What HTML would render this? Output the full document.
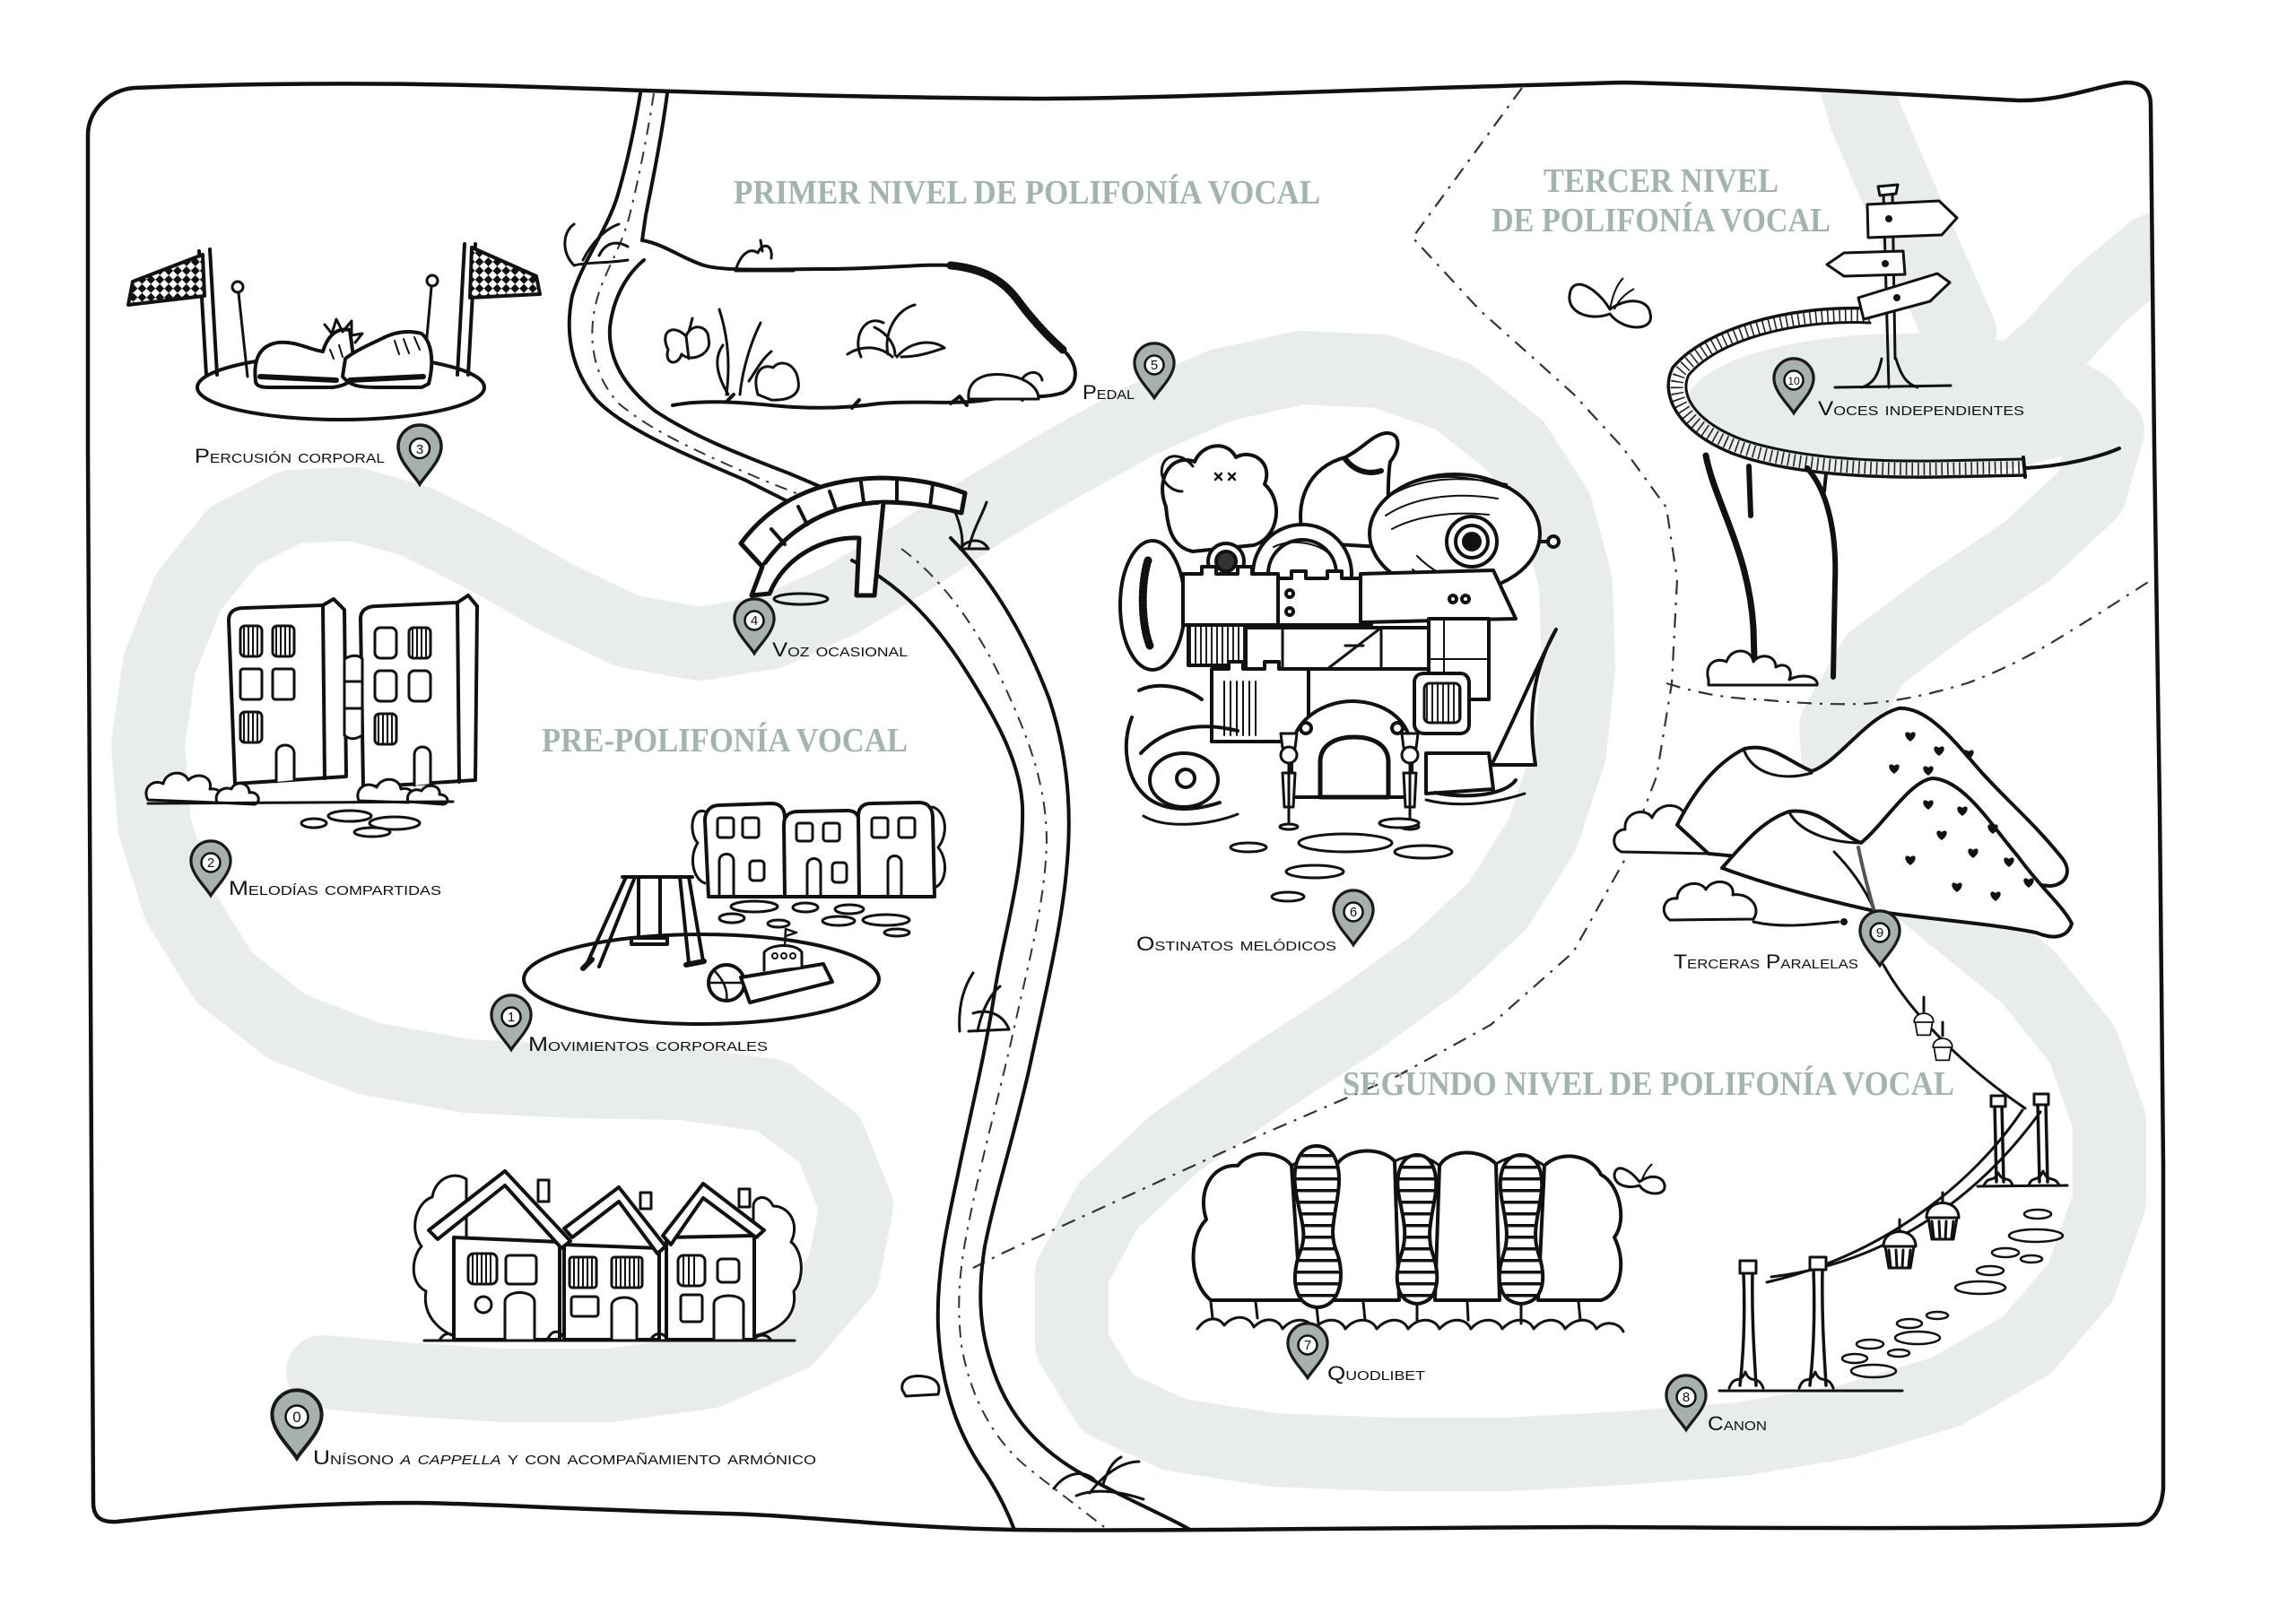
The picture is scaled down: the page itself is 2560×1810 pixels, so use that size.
<!DOCTYPE html>
<html><head><meta charset="utf-8"><style>html,body{margin:0;padding:0;background:#fff}svg{display:block}</style></head>
<body>
<svg width="2560" height="1810" viewBox="0 0 2560 1810" xmlns="http://www.w3.org/2000/svg">
<defs>
<pattern id="chk" width="14" height="14" patternUnits="userSpaceOnUse" patternTransform="rotate(45)"><rect width="14" height="14" fill="#fff"/><rect width="7" height="7" fill="#111"/><rect x="7" y="7" width="7" height="7" fill="#111"/></pattern>
<pattern id="stripes" width="12" height="13" patternUnits="userSpaceOnUse"><rect width="12" height="13" fill="#fff"/><rect width="12" height="3.5" fill="#111"/></pattern>
<pattern id="vh" width="6" height="10" patternUnits="userSpaceOnUse"><rect width="6" height="10" fill="#fff"/><rect width="2" height="10" fill="#222"/></pattern>
<path id="pin" d="M0,42 C-6,32 -24,16 -24,0 A24,24 0 1 1 24,0 C24,16 6,32 0,42 Z"/>
<path id="heart" d="M0,5 C-9,-1 -6,-9 0,-4 C6,-9 9,-1 0,5 Z"/>
<path id="cup" d="M-18,0 C-18,-22 18,-22 18,0 Z M-16,0 L16,0 L12,24 L-12,24 Z"/>
<clipPath id="clipB"><path d="M150,98 C300,92 450,92 600,97 C760,102 900,108 1155,110 C1300,110 1500,100 1810,92 C1950,95 2100,104 2250,112 C2300,113 2340,95 2370,92 C2392,92 2398,102 2398,118 L2402,500 L2408,900 L2412,1300 L2412,1660 C2410,1685 2400,1697 2385,1700 C2200,1706 2000,1704 1789,1703 C1600,1703 1300,1708 1131,1706 C1000,1704 900,1690 808,1688 C650,1684 520,1676 462,1676 C300,1676 200,1690 130,1697 C110,1698 104,1690 104,1675 L102,1300 L100,900 L98,500 L98,150 C98,125 120,100 150,98 Z"/></clipPath>
</defs>

<!-- gray winding path -->
<g clip-path="url(#clipB)">
<g fill="none" stroke="#e8ecec" stroke-width="82" stroke-linecap="round" stroke-linejoin="round">
<path d="M360,1530 L450,1538 L560,1545 L680,1545 L790,1530 L880,1490 L940,1420 L955,1345 L925,1270 L860,1222 L760,1208 L640,1206 L520,1200 L410,1180 L320,1145 L250,1090 L200,1010 L172,920 L165,830 L178,740 L210,660 L260,598 L325,565 L395,562 L465,582 L540,620 L620,666 L700,704 L780,718 L860,705 L940,668 L1020,620 L1100,567 L1180,520 L1270,470 L1360,430 L1450,410 L1540,414 L1620,442 L1690,497 L1735,567 L1757,650 L1760,745 L1750,840 L1720,930 L1670,1010 L1600,1075 L1510,1140 L1410,1205 L1310,1275 L1235,1345 L1195,1420 L1195,1500 L1235,1565 L1310,1600 L1420,1617 L1550,1622 L1680,1622 L1810,1615 L1940,1605 L2060,1585 L2170,1552 L2260,1500 L2320,1430 L2352,1340 L2352,1250 L2322,1165 L2262,1090 L2182,1025 L2102,960 L2052,890 L2047,810 L2090,735 L2170,675 L2260,615 L2330,550 L2350,480"/>
<path d="M2060,60 L2080,130 L2110,200 L2145,280 L2185,370"/>
<path d="M2470,250 L2400,280 L2340,330 L2290,385 L2240,430"/>
</g>
<ellipse cx="2125" cy="452" rx="245" ry="80" fill="#e8ecec"/>
</g>

<!-- border -->
<path d="M150,98 C300,92 450,92 600,97 C760,102 900,108 1155,110 C1300,110 1500,100 1810,92 C1950,95 2100,104 2250,112 C2300,113 2340,95 2370,92 C2392,92 2398,102 2398,118 L2402,500 L2408,900 L2412,1300 L2412,1660 C2410,1685 2400,1697 2385,1700 C2200,1706 2000,1704 1789,1703 C1600,1703 1300,1708 1131,1706 C1000,1704 900,1690 808,1688 C650,1684 520,1676 462,1676 C300,1676 200,1690 130,1697 C110,1698 104,1690 104,1675 L102,1300 L100,900 L98,500 L98,150 C98,125 120,100 150,98 Z" fill="none" stroke="#111" stroke-width="4.5"/>

<!-- region dividers -->
<g fill="none" stroke="#333" stroke-width="2.2" stroke-dasharray="16 9 3 9">
<path d="M1697,98 L1575,265 L1650,346 L1754,439 L1810,500 L1858,566 L1870,646 L1864,762 L1847,866 L1812,958 L1754,1062 L1662,1143 L1558,1200 L1396,1270 L1246,1339 L1119,1397 L1085,1414"/>
<path d="M1858,762 C1900,775 1930,779 1962,780 C2000,784 2040,786 2077,785 C2120,782 2160,772 2193,762 C2240,745 2280,722 2308,704 C2340,685 2370,665 2400,646"/>
</g>

<!-- river -->
<g fill="none" stroke="#111" stroke-width="4" stroke-linecap="round">
<path d="M714,104 C708,140 700,180 688,220 C676,258 650,290 638,330 C630,370 636,410 664,445 C695,478 760,505 830,535 L880,560"/>
<path d="M744,104 C738,150 728,200 720,240 L716,268"/>
<path d="M718,290 C700,305 684,330 680,365 C678,400 695,430 730,458 C770,485 820,505 880,528 L920,545"/>
<path d="M950,625 C1000,650 1040,690 1075,745 C1110,800 1138,850 1140,900 C1142,970 1120,1040 1110,1100 C1098,1180 1080,1250 1068,1310 C1055,1370 1044,1420 1046,1480 C1050,1560 1075,1610 1100,1645 C1115,1668 1125,1690 1131,1706"/>
<path d="M1060,600 C1100,640 1140,700 1170,780 C1190,840 1195,900 1190,960 C1185,1030 1165,1110 1148,1190 C1130,1270 1110,1330 1098,1390 C1090,1440 1092,1480 1105,1520 C1120,1570 1150,1610 1200,1640 C1250,1670 1300,1690 1327,1706"/>
</g>
<g fill="none" stroke="#333" stroke-width="2" stroke-dasharray="14 8 3 8">
<path d="M729,104 C722,150 712,200 702,240 C692,280 672,305 664,340 C655,380 662,420 690,450 C725,480 780,505 850,535 L900,555"/>
<path d="M1005,612 C1050,645 1090,700 1120,765 C1150,830 1167,880 1167,940 C1165,1010 1145,1080 1130,1150 C1112,1230 1095,1290 1083,1350 C1070,1410 1066,1450 1072,1500 C1082,1560 1110,1610 1150,1640 C1185,1668 1215,1690 1235,1706"/>
</g>

<!-- pond -->
<g fill="none" stroke="#111" stroke-width="4" stroke-linecap="round" stroke-linejoin="round">
<path d="M716,268 C740,272 760,288 785,296 C810,303 860,300 920,300 C980,300 1030,294 1060,296"/>
<path d="M1060,296 C1100,300 1120,315 1135,335 C1150,355 1165,372 1185,390" stroke-width="9" stroke-dasharray="3 2"/>
<path d="M1185,390 C1202,405 1205,428 1185,438 C1160,446 1130,440 1100,446 C1060,452 1020,446 980,450 C940,456 900,456 860,452 C820,448 780,446 750,452"/>
<path d="M1120,444 L1130,436 L1140,446 M1060,450 L1070,442 L1078,452 M950,455 L958,446 M810,448 L818,440"/>
<path d="M820,302 C825,285 835,275 845,282 C850,270 862,272 860,288 M820,302 L885,302 M850,280 L848,268" stroke-width="3"/>
<path d="M745,390 C735,370 750,360 765,375 C770,360 790,362 790,378 C795,395 770,405 760,395 C755,410 740,405 745,390 Z M765,375 L768,400 M768,370 L772,355" stroke-width="3"/>
<path d="M810,440 C815,400 810,370 802,345 M825,440 C828,410 838,380 848,360 M812,440 C800,420 795,400 806,385 M835,425 C845,410 850,400 860,392" stroke-width="3"/>
<path d="M845,440 C838,415 850,405 862,410 C870,400 888,405 890,425 C893,440 880,447 860,446 Z" fill="#fff" stroke-width="3"/>
<path d="M960,398 C950,375 965,350 985,360 M990,395 C985,370 1000,345 1020,340 M1000,398 C1015,380 1040,378 1053,388 C1040,392 1025,398 1005,398 M945,395 C960,385 980,385 995,398 M975,365 C990,372 998,385 998,396" stroke-width="3"/>
<path d="M1080,445 C1078,425 1095,415 1120,418 C1140,420 1158,430 1158,445 Z M1140,422 C1148,412 1160,414 1162,424" fill="#fff" stroke-width="3"/>
<path d="M640,296 C625,280 628,258 640,250 M650,290 C660,270 675,255 690,250 M640,296 C655,292 675,294 700,290 M668,285 C675,270 688,268 700,275" stroke-width="3"/>
<path d="M1060,560 C1070,580 1075,600 1072,612 M1080,612 C1085,590 1095,575 1100,560 M1070,612 C1080,600 1095,600 1102,612 Z" stroke-width="3"/>
<path d="M1070,1150 C1068,1120 1075,1100 1085,1085 M1090,1150 C1095,1125 1105,1108 1115,1100 M1085,1130 C1100,1125 1118,1130 1125,1148 L1080,1150" stroke-width="3"/>
<path d="M1175,1660 C1190,1640 1210,1640 1220,1650 M1215,1665 C1230,1645 1250,1630 1270,1630 M1200,1668 C1220,1660 1245,1662 1275,1672 M1230,1655 C1235,1640 1240,1630 1250,1625" stroke-width="3"/>
<path d="M1006,1550 C1004,1538 1015,1533 1030,1535 C1045,1537 1049,1545 1046,1555 L1010,1557 Z" fill="#fff" stroke-width="3"/>
</g>

<!-- bridge -->
<g stroke="#111" stroke-width="5" fill="#fff" stroke-linejoin="round" stroke-linecap="round">
<path d="M826,606 C860,560 910,535 980,533 C1020,533 1050,540 1076,550 L1072,572 C1045,565 1015,560 985,560 C925,562 880,588 850,632 Z"/>
<path d="M850,632 L838,664 L858,662 C875,620 920,598 958,600 L955,664 L975,664 L985,560" fill="#fff"/>
<path d="M860,590 L875,607 M890,565 L900,585 M925,548 L932,568 M960,538 L963,560 M1000,535 L1000,560 M1040,540 L1037,565" fill="none" stroke-width="4"/>
<ellipse cx="893" cy="668" rx="30" ry="6" fill="none" stroke-width="3"/>
</g>

<!-- shoes & flags -->
<g stroke="#111" stroke-width="4" fill="none" stroke-linejoin="round" stroke-linecap="round">
<ellipse cx="380" cy="432" rx="160" ry="36" fill="#fff"/>
<path d="M222,280 L230,418 M234,278 L242,418"/>
<path d="M518,272 L510,418 M530,272 L522,418"/>
<path d="M226,284 L148,314 L143,340 L228,330 Z" fill="url(#chk)"/>
<path d="M526,276 L598,308 L602,328 L524,332 Z" fill="url(#chk)"/>
<circle cx="265" cy="320" r="6" fill="#fff" stroke-width="3"/>
<path d="M266,327 L276,420" stroke-width="3"/>
<circle cx="482" cy="313" r="6" fill="#fff" stroke-width="3"/>
<path d="M481,320 L472,420" stroke-width="3"/>
<path d="M285,425 C282,400 290,385 310,382 C330,380 345,390 360,392 C365,375 375,365 390,368 L395,405 C400,420 390,430 370,432 L300,432 C290,432 285,430 285,425 Z" fill="#fff"/>
<path d="M478,428 C485,400 480,380 470,372 C455,368 440,370 425,378 C410,385 395,392 385,400 L382,420 C390,430 400,432 420,432 L470,432 Z" fill="#fff"/>
<path d="M290,420 L375,424 M390,424 L472,420" stroke-width="6"/>
<path d="M362,362 L370,372 L375,356 L382,370 L392,358 L392,374 L404,372 L396,382" stroke-width="3"/>
<path d="M368,390 L372,400 M378,385 L382,398 M440,380 L445,395 M450,378 L456,394 M462,376 L468,390" stroke-width="2"/>
</g>

<!-- apartments -->
<g stroke="#111" stroke-width="4" fill="#fff" stroke-linejoin="round" stroke-linecap="round">
<path d="M255,692 C255,682 262,678 272,678 L360,675 L372,668 L384,680 L386,866 L262,874 Z"/>
<path d="M360,675 L362,868" fill="none"/>
<path d="M402,690 C402,680 410,676 420,676 L510,672 L522,664 L532,676 L530,870 L405,878 Z"/>
<path d="M510,672 L512,872" fill="none"/>
<path d="M384,735 C392,730 400,730 404,735 L404,820 C396,825 390,825 384,820 Z M384,760 L404,760 M384,790 L404,790" stroke-width="3"/>
<g stroke-width="3">
<rect x="268" y="698" width="24" height="34" rx="5"/><rect x="304" y="698" width="24" height="34" rx="5"/>
<rect x="268" y="746" width="24" height="34" rx="3"/><rect x="304" y="746" width="24" height="34" rx="3"/>
<rect x="268" y="794" width="24" height="34" rx="5"/>
<path d="M308,872 L308,840 C308,828 328,828 328,840 L328,870" />
<rect x="418" y="700" width="24" height="34" rx="6"/><rect x="456" y="700" width="24" height="34" rx="5"/>
<rect x="418" y="748" width="24" height="34" rx="6"/><rect x="456" y="748" width="24" height="34" rx="6"/>
<rect x="418" y="796" width="24" height="34" rx="5"/>
<path d="M462,876 L462,842 C462,830 480,830 480,842 L480,874"/>
<path d="M272,700 L272,730 M277,700 L277,730 M282,700 L282,730 M287,700 L287,730 M308,700 L308,730 M313,700 L313,730 M318,700 L318,730 M323,700 L323,730 M272,796 L272,826 M277,796 L277,826 M282,796 L282,826 M287,796 L287,826 M460,702 L460,732 M465,702 L465,732 M470,702 L470,732 M475,702 L475,732 M422,798 L422,828 M427,798 L427,828 M432,798 L432,828 M437,798 L437,828" stroke-width="2" fill="none"/>
</g>
<path d="M165,892 C158,880 170,868 182,874 C185,860 205,858 210,870 C220,860 238,866 234,880 C248,878 252,892 240,895 Z" stroke-width="3"/>
<path d="M242,895 C238,885 248,876 258,880 C262,870 278,872 278,884 C288,882 292,894 284,897 Z" stroke-width="3"/>
<path d="M400,893 C395,880 408,870 420,878 C425,866 445,866 447,880 C460,876 468,892 455,895 Z" stroke-width="3"/>
<path d="M455,894 C452,884 462,878 470,882 C476,872 492,876 490,886 C500,886 502,896 494,897 Z" stroke-width="3"/>
<path d="M165,896 L505,894" fill="none" stroke-width="3"/>
<ellipse cx="390" cy="910" rx="24" ry="6" stroke-width="3"/><ellipse cx="440" cy="918" rx="28" ry="7" stroke-width="3"/><ellipse cx="350" cy="918" rx="14" ry="5" stroke-width="3"/><ellipse cx="415" cy="928" rx="20" ry="5" stroke-width="3"/>
</g>

<!-- playground -->
<g stroke="#111" stroke-width="4" fill="#fff" stroke-linejoin="round" stroke-linecap="round">
<path d="M790,1000 L786,915 C786,905 792,898 802,898 L860,896 C870,896 875,902 875,912 L876,1000 Z"/>
<path d="M875,1000 L874,920 C874,910 880,905 890,905 L945,904 C955,904 958,910 958,920 L958,1000 Z"/>
<path d="M958,1000 L957,910 C957,900 963,896 972,896 L1025,895 C1035,895 1040,902 1040,912 L1042,1000 Z"/>
<path d="M786,905 C770,900 768,930 778,940 C768,955 772,980 786,985 M1040,900 C1055,905 1058,930 1046,945 C1058,960 1055,985 1042,990" fill="none" stroke-width="3"/>
<g stroke-width="3">
<rect x="800" y="912" width="18" height="22" rx="3"/><rect x="828" y="912" width="18" height="22" rx="3"/><rect x="888" y="918" width="18" height="20" rx="3"/><rect x="918" y="918" width="18" height="20" rx="3"/><rect x="972" y="912" width="18" height="22" rx="3"/><rect x="1002" y="912" width="18" height="22" rx="3"/>
<path d="M802,1000 L802,960 C802,950 818,950 818,960 L818,1000 M900,1000 L900,965 C900,955 915,955 915,965 L915,1000 M990,1000 L990,962 C990,952 1005,952 1005,962 L1005,1000" fill="none"/>
<rect x="836" y="960" width="16" height="22" rx="4"/><rect x="928" y="962" width="16" height="22" rx="4"/>
</g>
<ellipse cx="782" cy="1092" rx="198" ry="50"/>
<path d="M694,978 L772,978 M698,978 L653,1078 M708,978 L668,1078 M768,978 L784,1072 M758,978 L768,1074 M712,980 L712,1046 M736,980 L736,1046 M704,1046 L744,1046 L744,1053 L704,1053 Z" fill="none"/>
<path d="M650,1080 L660,1070 M765,1076 L785,1072" fill="none" stroke-width="6"/>
<circle cx="810" cy="1096" r="20"/>
<path d="M796,1082 C806,1092 812,1104 810,1116 M790,1096 L830,1096" fill="none" stroke-width="2.5"/>
<path d="M826,1090 L918,1075 L928,1095 L836,1118 Z"/>
<path d="M852,1082 L852,1062 C860,1052 888,1052 894,1062 L894,1078" stroke-width="3"/>
<path d="M875,1055 L876,1036 L888,1040 L876,1044" fill="none" stroke-width="2.5"/>
<circle cx="864" cy="1066" r="3" stroke-width="2"/><circle cx="874" cy="1066" r="3" stroke-width="2"/><circle cx="884" cy="1066" r="3" stroke-width="2"/>
<g stroke-width="3"><ellipse cx="841" cy="1011" rx="26" ry="6"/><ellipse cx="898" cy="1012" rx="14" ry="5"/><ellipse cx="947" cy="1014" rx="16" ry="5"/><ellipse cx="988" cy="1026" rx="26" ry="6"/><ellipse cx="935" cy="1027" rx="18" ry="5"/><ellipse cx="816" cy="1024" rx="14" ry="5"/><ellipse cx="868" cy="1030" rx="12" ry="4"/><ellipse cx="1000" cy="1040" rx="14" ry="4"/></g>
</g>

<!-- three houses -->
<g stroke="#111" stroke-width="4" fill="#fff" stroke-linejoin="round" stroke-linecap="round">
<path d="M520,1494 C495,1490 470,1470 475,1440 C455,1430 460,1400 470,1390 C455,1370 465,1340 482,1335 C485,1315 505,1305 520,1315 Z" stroke-width="3"/>
<path d="M840,1490 C865,1485 890,1470 885,1440 C898,1425 895,1395 882,1385 C892,1365 880,1345 862,1345 C855,1330 840,1335 840,1345 Z" stroke-width="3"/>
<path d="M506,1494 L506,1380 L624,1385 L624,1494 Z"/>
<path d="M629,1494 L629,1388 L735,1392 L735,1494 Z"/>
<path d="M743,1494 L743,1380 L841,1378 L841,1494 Z"/>
<path d="M478,1372 L563,1306 L636,1384 L626,1392 L563,1322 L488,1382 Z"/>
<path d="M629,1370 L690,1324 L742,1390 L733,1398 L690,1340 L638,1380 Z"/>
<path d="M739,1378 L784,1320 L852,1372 L843,1380 L784,1336 L748,1388 Z"/>
<rect x="600" y="1316" width="12" height="24" stroke-width="3"/><rect x="714" y="1330" width="12" height="18" stroke-width="3"/><rect x="824" y="1326" width="12" height="20" stroke-width="3"/>
<g stroke-width="3">
<rect x="522" y="1398" width="32" height="34" rx="6"/><rect x="564" y="1400" width="34" height="32" rx="4"/>
<rect x="635" y="1402" width="30" height="34" rx="3"/><rect x="682" y="1402" width="34" height="34" rx="3"/>
<rect x="756" y="1400" width="30" height="34" rx="6"/><rect x="800" y="1404" width="24" height="26" rx="5"/>
<rect x="637" y="1446" width="30" height="22" rx="3"/><rect x="759" y="1444" width="24" height="30" rx="3"/>
<circle cx="539" cy="1455" r="9"/>
<path d="M563,1494 L563,1452 C563,1438 596,1438 596,1452 L596,1494 M682,1494 L682,1456 C682,1444 710,1444 710,1456 L710,1494 M796,1494 L796,1454 C796,1442 829,1442 829,1454 L829,1494"/>
<path d="M527,1400 L527,1430 M532,1400 L532,1430 M537,1400 L537,1430 M542,1400 L542,1430 M547,1400 L547,1430 M640,1404 L640,1434 M645,1404 L645,1434 M650,1404 L650,1434 M655,1404 L655,1434 M660,1404 L660,1434 M687,1404 L687,1434 M692,1404 L692,1434 M697,1404 L697,1434 M702,1404 L702,1434 M707,1404 L707,1434 M712,1404 L712,1434 M762,1402 L762,1432 M768,1402 L768,1432 M774,1402 L774,1432" stroke-width="2" fill="none"/>
</g>
<path d="M473,1495 L886,1495 M490,1495 C495,1485 505,1485 508,1495 M610,1495 C615,1482 625,1482 630,1495 M725,1495 C730,1485 740,1485 745,1495 M840,1495 C845,1487 855,1487 860,1495" fill="none" stroke-width="3"/>
</g>

<!-- robot castle -->
<g stroke="#111" stroke-width="4" fill="#fff" stroke-linejoin="round" stroke-linecap="round">
<path d="M1455,605 C1440,560 1460,520 1500,510 C1520,500 1530,485 1545,483 C1562,482 1562,500 1550,515 C1545,545 1552,580 1540,610 Z"/>
<path d="M1500,512 C1510,525 1525,530 1540,525" fill="none" stroke-width="6"/>
<ellipse cx="1622" cy="595" rx="95" ry="66"/>
<path d="M1540,560 C1570,535 1620,528 1680,540 M1545,575 C1575,555 1620,548 1670,556 M1552,590 C1580,575 1620,570 1660,574 M1560,545 C1590,530 1630,524 1690,548" fill="none" stroke-width="2"/>
<path d="M1580,620 C1600,640 1620,650 1660,650 M1575,635 C1595,652 1620,660 1650,660" fill="none" stroke-width="2"/>
<circle cx="1641" cy="604" r="28"/><circle cx="1641" cy="604" r="18"/><circle cx="1641" cy="604" r="9" fill="#111"/>
<path d="M1716,604 L1726,604" fill="none"/><circle cx="1732" cy="604" r="6"/>
<path d="M1300,565 C1288,535 1305,505 1332,515 C1340,495 1368,490 1378,510 C1395,500 1420,515 1410,540 C1432,560 1425,600 1398,608 L1330,615 C1305,610 1302,585 1300,565 Z"/>
<path d="M1330,520 C1318,505 1300,505 1296,520 C1292,535 1305,548 1318,548" fill="none" stroke-width="3"/>
<path d="M1355,528 L1362,535 M1362,528 L1355,535 M1370,528 L1377,535 M1377,528 L1370,535" fill="none" stroke-width="2.5"/>
<circle cx="1367" cy="626" r="20"/><circle cx="1367" cy="626" r="11" fill="#333"/>
<circle cx="1452" cy="640" r="55"/><circle cx="1452" cy="640" r="38"/>
<path d="M1420,610 C1440,600 1470,605 1485,620" fill="none" stroke-width="2"/>
<ellipse cx="1285" cy="675" rx="36" ry="72"/>
<path d="M1280,625 C1272,650 1272,695 1282,720" fill="none" stroke-width="9" stroke-dasharray="2 3"/>
<path d="M1319,640 L1340,640 L1340,632 L1356,632 L1356,640 L1380,640 L1380,632 L1396,632 L1396,640 L1425,640 L1425,697 L1319,697 Z"/>
<path d="M1425,645 L1440,645 L1440,637 L1456,637 L1456,645 L1480,645 L1480,637 L1496,637 L1496,645 L1529,645 L1529,697 L1425,697 Z"/>
<circle cx="1438" cy="662" r="4"/><circle cx="1438" cy="682" r="4"/>
<path d="M1517,640 L1665,636 L1690,690 L1517,694 Z"/>
<circle cx="1620" cy="668" r="4"/><circle cx="1634" cy="668" r="4"/>
<path d="M1325,697 L1421,697 L1421,742 L1325,742 Z" fill="url(#vh)"/>
<path d="M1389,700 L1593,700 L1593,746 L1389,746 Z"/>
<path d="M1480,746 L1540,700 M1540,700 L1540,746 M1430,700 L1430,746 M1500,720 L1520,720" fill="none" stroke-width="3"/>
<path d="M1593,690 L1660,690 L1660,780 L1593,780 Z"/>
<path d="M1610,690 L1610,780 M1593,735 L1660,735" fill="none" stroke-width="2"/>
<path d="M1351,746 L1370,746 L1370,738 L1386,738 L1386,746 L1410,746 L1410,738 L1426,738 L1426,746 L1459,746 L1459,827 L1351,827 Z"/>
<path d="M1365,760 L1365,820 M1372,760 L1372,820 M1379,760 L1379,820 M1386,760 L1386,820 M1393,760 L1393,820 M1400,760 L1400,820" fill="none" stroke-width="2"/>
<path d="M1663,853 C1690,800 1705,760 1735,702 C1712,742 1702,790 1712,853 Z"/>
<path d="M1262,800 C1250,830 1255,870 1280,890 C1300,905 1330,905 1360,895 M1272,840 C1300,810 1340,805 1380,815 M1270,770 C1290,760 1320,765 1340,780" fill="none"/>
<ellipse cx="1320" cy="870" rx="38" ry="30"/><circle cx="1322" cy="868" r="10"/>
<path d="M1440,889 L1440,840 C1440,800 1480,782 1507,782 C1540,782 1574,800 1574,840 L1574,889 Z"/>
<path d="M1472,889 L1472,850 C1472,830 1490,822 1510,822 C1530,822 1548,830 1548,850 L1548,889 Z" fill="#fff" stroke-width="5"/>
<circle cx="1456" cy="812" r="6"/><circle cx="1558" cy="812" r="6"/>
<path d="M1577,761 C1577,754 1582,751 1588,751 L1628,751 C1634,751 1638,755 1638,762 L1638,808 C1638,814 1634,818 1628,818 L1588,818 C1582,818 1577,814 1577,808 Z"/>
<rect x="1588" y="762" width="40" height="44" rx="6" fill="url(#vh)" stroke-width="3"/>
<path d="M1590,840 L1660,840 L1665,880 L1590,885 Z M1600,884 C1640,892 1680,885 1690,870" />
<path d="M1428,818 L1446,818 L1444,834 L1430,834 Z M1563,818 L1581,818 L1579,834 L1565,834 Z" stroke-width="3"/>
<circle cx="1437" cy="842" r="9" stroke-width="3"/><circle cx="1572" cy="842" r="9" stroke-width="3"/>
<path d="M1437,851 L1437,920 M1572,851 L1572,920 M1430,862 L1444,862 L1442,900 L1432,900 Z M1565,862 L1579,862 L1577,900 L1567,900 Z" stroke-width="3"/>
<ellipse cx="1437" cy="922" rx="10" ry="3" stroke-width="3"/><ellipse cx="1572" cy="922" rx="10" ry="3" stroke-width="3"/>
<path d="M1275,910 C1300,925 1350,920 1380,908 M1590,892 C1620,900 1660,898 1700,885" fill="none" stroke-width="3"/>
<g stroke-width="3"><ellipse cx="1500" cy="940" rx="52" ry="10"/><ellipse cx="1466" cy="972" rx="32" ry="7"/><ellipse cx="1436" cy="1000" rx="18" ry="5"/><ellipse cx="1587" cy="950" rx="32" ry="7"/><ellipse cx="1392" cy="945" rx="20" ry="5"/><ellipse cx="1560" cy="918" rx="22" ry="5"/></g>
</g>

<!-- platform (voces independientes) -->
<g stroke="#111" stroke-width="4" fill="none" stroke-linejoin="round" stroke-linecap="round">
<path d="M2085,352 C1995,348 1908,374 1874,414 C1860,442 1880,476 1935,497 C1995,519 2080,524 2160,523 L2257,521" stroke="#222" stroke-width="14" stroke-linecap="butt" stroke-dasharray="1.6 5"/>
<path d="M2085,344 C1990,340 1900,368 1865,410 C1850,440 1870,480 1930,505 C1990,528 2080,533 2160,532 L2258,530" stroke-width="3.5"/>
<path d="M2085,360 C1998,356 1915,380 1883,418 C1872,440 1890,470 1942,490 C2000,510 2082,515 2160,514 L2256,512" stroke-width="3"/>
<path d="M2256,510 L2258,532 M2258,522 C2300,520 2340,510 2363,500"/>
<path d="M1902,508 C1912,560 1950,615 1955,700 L1956,735" stroke-width="7"/>
<path d="M1950,520 L1952,575" stroke-width="6"/>
<path d="M2015,522 C2040,550 2048,600 2046,650 L2044,755" stroke-width="6"/>
<path d="M2036,528 L2034,548" stroke-width="4"/>
<path d="M1905,758 C1900,742 1912,732 1925,738 C1930,722 1952,722 1955,738 C1962,728 1980,730 1980,744 C1990,738 2000,745 1995,758 C2010,750 2028,755 2026,764 L1905,764 Z" fill="#fff" stroke-width="3"/>
<path d="M2100,214 L2106,432 M2110,214 L2113,400" stroke-width="3"/>
<path d="M2094,208 L2116,206 L2114,216 L2096,218 Z" fill="#fff" stroke-width="3"/>
<path d="M2098,400 C2094,420 2088,428 2076,432 M2114,400 C2120,420 2126,428 2138,432 M2046,432 L2175,430" stroke-width="3"/>
<path d="M2082,228 L2162,224 L2182,243 L2165,262 L2083,265 Z" fill="#fff" stroke-width="3"/>
<path d="M2122,280 L2056,282 L2037,295 L2056,308 L2124,306 Z" fill="#fff" stroke-width="3"/>
<path d="M2072,332 L2160,305 L2174,315 L2152,336 L2078,356 Z" fill="#fff" stroke-width="3"/>
<circle cx="2106" cy="244" r="2" fill="#111"/><circle cx="2102" cy="294" r="2" fill="#111"/><circle cx="2115" cy="332" r="2" fill="#111"/>
</g>

<!-- mountains -->
<g stroke="#111" stroke-width="4" fill="#fff" stroke-linejoin="round" stroke-linecap="round">
<path d="M1808,950 C1795,945 1798,925 1812,925 C1810,905 1835,900 1842,912 C1850,892 1880,895 1880,915 C1895,908 1915,918 1905,932 C1918,935 1920,950 1908,952 Z" stroke-width="3"/>
<path d="M1870,920 C1890,880 1915,850 1945,835 C1975,828 1995,850 2020,860 C2050,850 2080,800 2117,790 C2150,788 2180,828 2210,862 C2240,895 2270,920 2300,958 C2312,975 2300,988 2285,988 L1905,952 Z"/>
<path d="M1945,838 C1955,862 1985,872 2020,862" fill="none" stroke-width="3"/>
<path d="M1920,968 C1945,940 1965,915 1995,905 C2030,900 2050,930 2075,940 C2100,920 2130,870 2155,868 C2190,870 2220,920 2250,955 C2275,990 2300,1010 2310,1030 C2305,1046 2290,1048 2270,1040 C2220,1030 2150,1025 2090,1016 C2040,1005 1980,990 1920,968 Z"/>
<path d="M1995,906 C2008,930 2045,940 2075,940 M2090,1016 C2080,990 2060,965 2045,950" fill="none" stroke-width="3"/>
<path d="M1862,1026 C1850,1018 1855,1000 1870,1002 C1870,985 1895,980 1902,992 C1910,978 1935,982 1932,998 C1948,995 1965,1010 1955,1025 Z" stroke-width="3"/>
<path d="M1955,1028 C1990,1036 2025,1030 2050,1028" fill="none" stroke-width="3"/>
<circle cx="2056" cy="1028" r="4" fill="#111" stroke="none"/>
<g fill="#111" stroke="none">
<use href="#heart" x="2130" y="822"/><use href="#heart" x="2162" y="838"/><use href="#heart" x="2195" y="842"/><use href="#heart" x="2112" y="858"/><use href="#heart" x="2150" y="860"/>
<use href="#heart" x="2150" y="898"/><use href="#heart" x="2188" y="905"/><use href="#heart" x="2222" y="925"/><use href="#heart" x="2165" y="932"/><use href="#heart" x="2200" y="952"/><use href="#heart" x="2240" y="962"/><use href="#heart" x="2262" y="985"/><use href="#heart" x="2182" y="990"/><use href="#heart" x="2225" y="1000"/><use href="#heart" x="2130" y="960"/>
</g>
</g>

<!-- canon: rope, poles, cupcakes -->
<g stroke="#111" stroke-width="3" fill="none" stroke-linecap="round" stroke-linejoin="round">
<path d="M2072,945 C2080,985 2090,1015 2096,1040" stroke="#555" stroke-width="4"/>
<path d="M2100,1076 C2130,1130 2190,1190 2258,1236"/>
<path d="M2145,1112 L2145,1128 M2166,1140 L2166,1155"/>
<path d="M2255,1238 C2200,1320 2100,1400 1970,1430 M2275,1240 C2210,1330 2110,1408 1975,1424"/>
<path d="M2166,1330 L2166,1345 M2118,1360 L2118,1375"/>
<g fill="#fff"><use href="#cup" transform="translate(2145,1140) scale(0.6)"/><use href="#cup" transform="translate(2166,1168) scale(0.6)"/><use href="#cup" transform="translate(2166,1358)"/><use href="#cup" transform="translate(2118,1390)"/></g>
<path d="M2154,1362 L2156,1380 M2162,1362 L2163,1382 M2170,1362 L2169,1382 M2178,1362 L2176,1380 M2106,1394 L2108,1412 M2114,1394 L2115,1414 M2122,1394 L2121,1414 M2130,1394 L2128,1412"/>
<path d="M2224,1232 L2226,1318 M2232,1232 L2234,1318 M2272,1230 L2274,1318 M2281,1230 L2283,1318" stroke-width="3.5"/>
<rect x="2220" y="1222" width="16" height="12" fill="#fff"/><rect x="2268" y="1220" width="16" height="12" fill="#fff"/>
<path d="M2212,1322 C2218,1310 2222,1320 2228,1308 C2234,1320 2240,1310 2244,1322 M2262,1322 C2266,1310 2272,1320 2278,1306 C2284,1320 2290,1310 2296,1322 M2205,1323 L2305,1322"/>
<path d="M1944,1418 C1946,1470 1944,1510 1940,1545 M1954,1418 C1953,1470 1956,1510 1958,1545 M2022,1414 C2024,1470 2022,1510 2018,1545 M2032,1414 C2031,1470 2034,1510 2036,1545" stroke-width="3.5"/>
<rect x="1940" y="1406" width="18" height="14" fill="#fff"/><rect x="2018" y="1402" width="18" height="14" fill="#fff"/>
<path d="M1928,1548 C1934,1532 1940,1545 1946,1530 C1952,1545 1960,1532 1966,1548 M2006,1548 C2012,1532 2018,1545 2024,1530 C2030,1545 2038,1532 2044,1548 M1917,1551 L2121,1551"/>
<g stroke-width="2.5"><ellipse cx="2272" cy="1354" rx="15" ry="5"/><ellipse cx="2270" cy="1378" rx="30" ry="7"/><ellipse cx="2236" cy="1397" rx="15" ry="5"/><ellipse cx="2265" cy="1404" rx="12" ry="4"/><ellipse cx="2219" cy="1417" rx="15" ry="5"/><ellipse cx="2208" cy="1436" rx="28" ry="7"/><ellipse cx="2160" cy="1467" rx="12" ry="4"/><ellipse cx="2129" cy="1476" rx="14" ry="5"/><ellipse cx="2138" cy="1492" rx="25" ry="7"/><ellipse cx="2085" cy="1499" rx="15" ry="5"/><ellipse cx="2117" cy="1509" rx="12" ry="4"/><ellipse cx="2068" cy="1515" rx="14" ry="5"/><ellipse cx="2089" cy="1529" rx="25" ry="7"/></g>
</g>

<!-- trees quodlibet -->
<g stroke="#111" stroke-width="4" fill="#fff" stroke-linejoin="round" stroke-linecap="round">
<path d="M1350,1450 C1325,1430 1325,1380 1345,1360 C1335,1330 1350,1298 1380,1300 C1395,1280 1430,1285 1440,1300 L1450,1450 Z"/>
<path d="M1480,1450 L1490,1300 C1500,1280 1540,1278 1555,1295 L1560,1450 Z"/>
<path d="M1600,1450 L1605,1300 C1615,1282 1650,1280 1668,1298 L1672,1450 Z"/>
<path d="M1715,1450 L1722,1300 C1740,1282 1775,1288 1785,1310 C1805,1320 1815,1360 1800,1380 C1815,1410 1805,1445 1785,1450 Z"/>
<path d="M1440,1300 C1455,1290 1470,1290 1490,1300 M1555,1295 C1575,1285 1590,1288 1605,1300 M1668,1298 C1690,1285 1705,1288 1722,1300" fill="none" stroke-width="3"/>
<path d="M1468,1278 C1448,1278 1440,1300 1445,1330 C1450,1360 1458,1375 1450,1395 C1440,1420 1440,1455 1468,1458 C1496,1458 1500,1420 1490,1395 C1482,1375 1488,1360 1492,1330 C1496,1300 1488,1278 1468,1278 Z" fill="url(#stripes)"/>
<path d="M1580,1288 C1562,1288 1555,1310 1560,1335 C1565,1360 1570,1378 1562,1400 C1554,1425 1556,1452 1580,1454 C1604,1452 1606,1425 1598,1400 C1590,1378 1596,1360 1600,1335 C1604,1310 1598,1288 1580,1288 Z" fill="url(#stripes)"/>
<path d="M1696,1288 C1676,1288 1670,1310 1674,1335 C1678,1360 1684,1378 1676,1400 C1668,1425 1670,1452 1696,1454 C1722,1452 1724,1425 1716,1400 C1708,1378 1714,1360 1718,1335 C1722,1310 1716,1288 1696,1288 Z" fill="url(#stripes)"/>
<path d="M1350,1452 L1352,1470 M1400,1452 L1402,1470 M1468,1458 L1470,1476 M1520,1452 L1522,1472 M1580,1456 L1580,1474 M1636,1452 L1637,1472 M1696,1456 L1696,1476 M1760,1452 L1762,1472" fill="none" stroke-width="3"/>
<path d="M1335,1482 C1345,1468 1358,1468 1365,1478 C1375,1466 1392,1466 1398,1480 C1410,1468 1425,1470 1430,1482 C1442,1468 1460,1470 1465,1482 C1478,1468 1495,1470 1500,1482 C1512,1468 1530,1470 1535,1482 C1548,1468 1565,1470 1570,1482 C1582,1468 1600,1470 1605,1482 C1618,1468 1635,1470 1640,1482 C1652,1468 1670,1470 1675,1482 C1688,1468 1705,1470 1710,1482 C1722,1468 1740,1470 1745,1482 C1758,1468 1775,1470 1780,1482 C1790,1472 1805,1475 1810,1485" fill="none" stroke-width="3"/>
</g>

<!-- butterflies -->
<g stroke="#111" stroke-width="3" fill="#fff" stroke-linejoin="round">
<path d="M1795,345 C1780,320 1752,305 1750,330 C1748,350 1775,358 1795,350 C1810,370 1845,370 1840,350 C1838,332 1812,332 1795,345 Z"/>
<path d="M1795,345 C1798,330 1802,318 1810,310 M1800,345 C1806,332 1815,326 1822,322" fill="none" stroke-width="2"/>
<path d="M1828,1318 C1818,1305 1802,1296 1800,1310 C1800,1322 1815,1326 1828,1322 C1835,1334 1858,1334 1856,1322 C1854,1310 1838,1310 1828,1318 Z"/>
<path d="M1830,1318 C1833,1308 1838,1302 1842,1298" fill="none" stroke-width="2"/>
</g>

<!-- pins -->
<g fill="#a6b0af" stroke="#1a1a1a" stroke-width="3.5">
<use href="#pin" transform="translate(468,498)"/>
<use href="#pin" transform="translate(235,960) scale(0.92)"/>
<use href="#pin" transform="translate(841,690) scale(0.92)"/>
<use href="#pin" transform="translate(1287,405) scale(0.92)"/>
<use href="#pin" transform="translate(570,1132) scale(0.92)"/>
<use href="#pin" transform="translate(331,1578) scale(1.15)"/>
<use href="#pin" transform="translate(1509,1015) scale(0.92)"/>
<use href="#pin" transform="translate(1458,1498) scale(0.92)"/>
<use href="#pin" transform="translate(1880,1556) scale(0.92)"/>
<use href="#pin" transform="translate(2096,1038) scale(0.92)"/>
<use href="#pin" transform="translate(2000,422) scale(0.92)"/>
</g>
<g fill="#fff" stroke="#111" stroke-width="2.5">
<circle cx="468" cy="500" r="11"/><circle cx="235" cy="962" r="10.5"/><circle cx="841" cy="692" r="10.5"/><circle cx="1287" cy="407" r="10.5"/><circle cx="570" cy="1134" r="10.5"/><circle cx="331" cy="1580" r="12.5"/><circle cx="1509" cy="1017" r="10.5"/><circle cx="1458" cy="1500" r="10.5"/><circle cx="1880" cy="1558" r="10.5"/><circle cx="2096" cy="1040" r="10.5"/><circle cx="2000" cy="424" r="10.5"/>
</g>
<g font-family="'Liberation Sans', sans-serif" font-size="15" fill="#111" text-anchor="middle">
<text x="468" y="506">3</text><text x="235" y="967">2</text><text x="841" y="697">4</text><text x="1287" y="412">5</text><text x="570" y="1139">1</text><text x="331" y="1586" font-size="17">0</text><text x="1509" y="1022">6</text><text x="1458" y="1505">7</text><text x="1880" y="1563">8</text><text x="2096" y="1045">9</text><text x="2000" y="429" font-size="12">10</text>
</g>

<!-- labels -->
<g font-family="'Liberation Sans', sans-serif" font-size="22" fill="#111" style="font-variant:small-caps">
<text x="217" y="516" textLength="212" lengthAdjust="spacingAndGlyphs">Percusión corporal</text>
<text x="1207" y="445" textLength="58" lengthAdjust="spacingAndGlyphs">Pedal</text>
<text x="861" y="732" textLength="151" lengthAdjust="spacingAndGlyphs">Voz ocasional</text>
<text x="255" y="998" textLength="237" lengthAdjust="spacingAndGlyphs">Melodías compartidas</text>
<text x="589" y="1172" textLength="267" lengthAdjust="spacingAndGlyphs">Movimientos corporales</text>
<text x="349" y="1633" textLength="561" lengthAdjust="spacingAndGlyphs">Unísono <tspan font-style="italic">a cappella</tspan> y con acompañamiento armónico</text>
<text x="2027" y="463" textLength="230" lengthAdjust="spacingAndGlyphs">Voces independientes</text>
<text x="1267" y="1060" textLength="223" lengthAdjust="spacingAndGlyphs">Ostinatos melódicos</text>
<text x="1866" y="1080" textLength="206" lengthAdjust="spacingAndGlyphs">Terceras Paralelas</text>
<text x="1480" y="1539" textLength="109" lengthAdjust="spacingAndGlyphs">Quodlibet</text>
<text x="1904" y="1595" textLength="66" lengthAdjust="spacingAndGlyphs">Canon</text>
</g>

<!-- titles -->
<g font-family="'Liberation Serif', serif" font-weight="bold" font-size="38" fill="#a2b4af">
<text x="818" y="227" textLength="654" lengthAdjust="spacingAndGlyphs">PRIMER NIVEL DE POLIFONÍA VOCAL</text>
<text x="604" y="838" textLength="408" lengthAdjust="spacingAndGlyphs">PRE-POLIFONÍA VOCAL</text>
<text x="1721" y="214" textLength="262" lengthAdjust="spacingAndGlyphs">TERCER NIVEL</text>
<text x="1663" y="258" textLength="378" lengthAdjust="spacingAndGlyphs">DE POLIFONÍA VOCAL</text>
<text x="1497" y="1221" textLength="682" lengthAdjust="spacingAndGlyphs">SEGUNDO NIVEL DE POLIFONÍA VOCAL</text>
</g>
</svg>
</body></html>
